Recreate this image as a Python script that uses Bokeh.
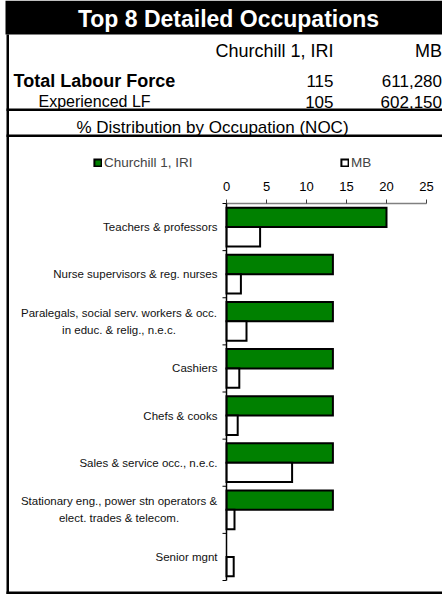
import numpy as np
from bokeh.plotting import figure
from bokeh.models import Range1d, Legend, LegendItem, ColumnDataSource
from bokeh.core.properties import value
from bokeh.embed import file_html
from bokeh.resources import INLINE

# ---------------- data ----------------
title = "Top 8 Detailed Occupations"
area_name = "Churchill 1, IRI"
ref_name = "MB"
row_labels = ["Total Labour Force", "Experienced LF"]
area_counts = ["115", "105"]
ref_counts = ["611,280", "602,150"]
subtitle = "% Distribution by Occupation (NOC)"

categories = [
    "Teachers & professors",
    "Nurse supervisors & reg. nurses",
    "Paralegals, social serv. workers & occ.\nin educ. & relig., n.e.c.",
    "Cashiers",
    "Chefs & cooks",
    "Sales & service occ., n.e.c.",
    "Stationary eng., power stn operators &\nelect. trades & telecom.",
    "Senior mgnt",
]
area_pct = [20.0, 13.3, 13.3, 13.3, 13.3, 13.3, 13.3, 0.0]
ref_pct = [4.2, 1.8, 2.5, 1.6, 1.4, 8.2, 1.0, 0.9]
x_ticks = [0, 5, 10, 15, 20, 25]

FONT = "Liberation Sans"

# ---------------- layout constants (pixels) ----------------
W, H = 442, 594
AX_X = 226           # value 0
PX_PER_UNIT = 8.0    # 25 -> 426
AX_TOP, AX_BOT = 203, 580
RIGHT_COL = 441.5

p = figure(width=W, height=H, output_backend="svg", toolbar_location=None,
           x_range=Range1d(0, W), y_range=Range1d(H, 0),
           x_axis_location=None, y_axis_location=None,
           min_border=0, min_border_left=0, min_border_right=0,
           min_border_top=0, min_border_bottom=0)
p.outline_line_color = None
p.grid.visible = False
p.background_fill_color = "white"
p.border_fill_color = "white"

n = len(categories)
band = (AX_BOT - AX_TOP) / n
p.extra_x_ranges = {"val": Range1d(-AX_X / PX_PER_UNIT, (W - AX_X) / PX_PER_UNIT)}
p.extra_y_ranges = {"cat": Range1d((H - AX_TOP) / band, -AX_TOP / band)}

# ---------------- header ----------------
def box(l, r, t, b):
    p.quad(left=l, right=r, top=t, bottom=b, fill_color="black", line_color=None)

box(5, W, 0, 34)          # title bar
box(6, 8.5, 34, 593.5)    # left border
box(6, W, 108, 110.5)     # rule under the counts
box(6, W, 134, 136.5)     # rule under the subtitle
box(6, W, 591, 593.5)     # bottom border

def txt(xs, ys, texts, align="left", size="17px", bold=False, color="black",
        baseline="alphabetic"):
    p.text(x=xs, y=ys, text=texts, text_align=align, text_baseline=baseline,
           text_color=color, text_font=value(FONT), text_font_size=size,
           text_font_style="bold" if bold else "normal")

txt([228], [18.5], [title], align="center", size="23px", bold=True,
    color="white", baseline="middle")
txt([333], [50], [area_name], align="right", size="18px")
txt([RIGHT_COL], [50], [ref_name], align="right", size="18px")
txt([13], [80], [row_labels[0]], size="18px", bold=True)
txt([38], [101], [row_labels[1]], size="16px")
txt([333, 333], [80, 101], area_counts, align="right")
txt([RIGHT_COL, RIGHT_COL], [80, 101], ref_counts, align="right")
txt([212], [127], [subtitle], align="center")

# ---------------- bars ----------------
idx = np.arange(n) + 0.5
bar_h = 0.41
src = ColumnDataSource(dict(
    y_area=idx - bar_h / 2, y_ref=idx + bar_h / 2,
    area=area_pct, ref=ref_pct,
    area_alpha=[1.0 if v > 0 else 0.0 for v in area_pct],
))
r1 = p.hbar(y="y_area", left=0, right="area", height=bar_h, source=src,
            x_range_name="val", y_range_name="cat",
            fill_color="#008000", line_color="black", line_width=2,
            line_alpha="area_alpha", fill_alpha="area_alpha", line_join="miter")
r2 = p.hbar(y="y_ref", left=0, right="ref", height=bar_h, source=src,
            x_range_name="val", y_range_name="cat",
            fill_color="white", line_color="black", line_width=2,
            line_join="miter")

# ---------------- value axis (top) ----------------
p.segment(x0=[x_ticks[0]], x1=[x_ticks[-1]], y0=[AX_TOP], y1=[AX_TOP],
          x_range_name="val", line_color="#808080", line_width=1.5)
p.segment(x0=x_ticks, x1=x_ticks, y0=[AX_TOP] * len(x_ticks),
          y1=[AX_TOP - 4] * len(x_ticks), x_range_name="val",
          line_color="#404040", line_width=1)
p.text(x=x_ticks, y=[AX_TOP - 17] * len(x_ticks), text=[str(t) for t in x_ticks],
       x_range_name="val", text_align="center", text_baseline="alphabetic",
       text_font=value(FONT), text_font_size="13px", text_color="black")

# ---------------- category axis (left) ----------------
bounds = list(range(n + 1))
p.segment(x0=[0], x1=[0], y0=[bounds[0]], y1=[bounds[-1]],
          x_range_name="val", y_range_name="cat", line_color="black", line_width=1.5)
p.segment(x0=[AX_X - 4] * len(bounds), x1=[AX_X] * len(bounds), y0=bounds, y1=bounds,
          y_range_name="cat", line_color="black", line_width=1)

single = [i for i, c in enumerate(categories) if "\n" not in c]
wrapped = [i for i, c in enumerate(categories) if "\n" in c]
p.text(x=[AX_X - 9] * len(single), y=[idx[i] for i in single],
       text=[categories[i] for i in single], y_range_name="cat",
       text_align="right", text_baseline="middle", text_font=value(FONT),
       text_font_size="11.5px", text_color="#111111")
# wrapped labels: lines centred on each other, block right-aligned to the axis
p.text(x=[AX_X - 9 - 98.5] * len(wrapped), y=[idx[i] for i in wrapped],
       text=[categories[i] for i in wrapped], y_range_name="cat",
       text_align="center", text_baseline="middle", text_line_height=1.4,
       text_font=value(FONT), text_font_size="11.5px", text_color="#111111")

# ---------------- legend ----------------
legend = Legend(items=[LegendItem(label=area_name, renderers=[r1]),
                       LegendItem(label=ref_name, renderers=[r2])],
                orientation="horizontal", location=(93, 424),
                glyph_width=9, glyph_height=9, label_height=9,
                label_standoff=2, label_width=236, spacing=0,
                padding=0, margin=0, border_line_color=None,
                background_fill_alpha=0,
                label_text_font=FONT, label_text_font_size="13.5px")
p.add_layout(legend)

open("out.html", "w").write(file_html(p, INLINE))
